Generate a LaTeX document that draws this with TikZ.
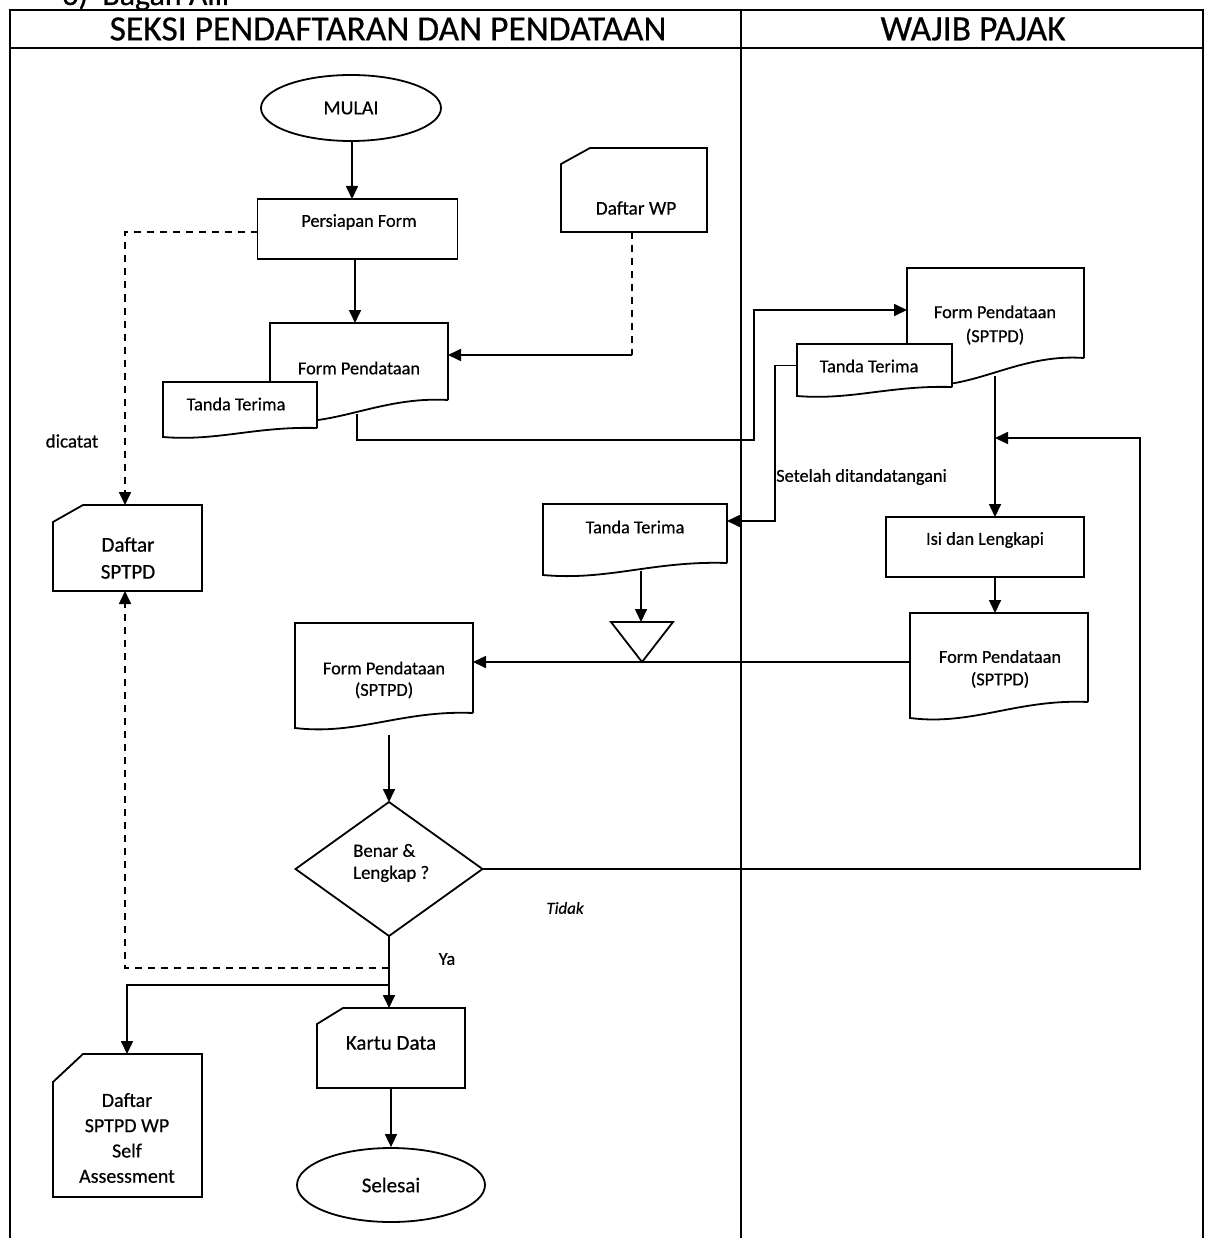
\documentclass[tikz,border=0pt]{standalone}
\usepackage{fontspec}
\setmainfont{Carlito}[FakeBold=0.5]
\usetikzlibrary{shapes.geometric,arrows.meta,calc}

% card outline: rectangle with the top-left corner cut off
\newcommand\cardoutline[3]{%
  \draw[shp] ($(#1.north west)+(0,#3)$) -- ($(#1.north west)+(#2,0)$)
    -- (#1.north east) -- (#1.south east) -- (#1.south west) -- cycle;}
% document outline: wavy bottom, left corner #2 lower than the right one
\newcommand\docoutline[2]{%
  \draw[shp,fill=white] (#1.south east) -- (#1.north east) -- (#1.north west)
    -- ($(#1.south west)+(0,#2)$)
    .. controls ($(#1.south west)!0.35!(#1.south east)+(0,1.5*#2)$)
       and ($(#1.south west)!0.6!(#1.south east)+(0,-0.2*#2)$) .. (#1.south east);}

\begin{document}
\begin{tikzpicture}[x=1pt,y=-1pt,
  shp/.style={draw=black,line width=1.8pt},
  box/.style={rectangle,inner sep=0pt,outer sep=0pt},
  oval/.style={ellipse,draw=black,line width=1.8pt,inner sep=0pt},
  arr/.style={line width=1.7pt,-{Triangle[length=13pt,width=12pt]}},
  dsh/.style={line width=1.7pt,dash pattern=on 7pt off 6pt},
  txt/.style={font=\fontsize{18.3}{22.5}\selectfont,align=center,inner sep=0pt},
  big/.style={font=\fontsize{21}{26}\selectfont,align=center,inner sep=0pt},
  head/.style={font=\fontsize{35.5}{40}\selectfont,inner sep=0pt},
  frame/.style={draw=black,line width=1.3pt}]

\useasboundingbox (0,0) rectangle (1210,1238);

% caption line above the table (partly cut by the page edge)
\node[anchor=base west,inner sep=0pt,font=\fontsize{32}{36}\selectfont] (cap) at (62,5) {6)\;\,Bagan Alir};

% swimlane table
\draw[frame] (10,1260) -- (10,10) -- (1203,10) -- (1203,1260);
\draw[frame] (10,48) -- (1203,48);
\draw[frame] (741,10) -- (741,1260);
\node[head] (laneA) at (388,29) {SEKSI PENDAFTARAN DAN PENDATAAN};
\node[head] (laneB) at (973,29) {WAJIB PAJAK};

% ---- shapes ----
\node[oval,minimum width=180pt,minimum height=66pt,big,font=\fontsize{20}{24}\selectfont] (mulai) at (351,108) {MULAI};

\node[box,draw=black,line width=1.8pt,minimum width=200pt,minimum height=60pt] (persiapan) at (357.5,229) {};
\node[txt] (persiapanT) at (359,222) {Persiapan Form};

\node[box,minimum width=146pt,minimum height=84pt] (daftarwp) at (634,190) {};
\cardoutline{daftarwp}{29}{16}
\node[txt,font=\fontsize{19.4}{22}\selectfont] (daftarwpT) at (636,208) {Daftar WP};

\node[box,minimum width=178pt,minimum height=77pt] (fp1) at (359,361.5) {};
\docoutline{fp1}{20}
\node[txt] (fp1T) at (359,368) {Form Pendataan};

\node[box,minimum width=154pt,minimum height=46pt] (tt1) at (240,405) {};
\docoutline{tt1}{9}
\node[txt] (tt1T) at (236,404) {Tanda Terima};

\node[box,minimum width=149pt,minimum height=86pt] (daftarsptpd) at (127.5,548) {};
\cardoutline{daftarsptpd}{30}{17}
\node[big,font=\fontsize{21}{27}\selectfont] (daftarsptpdT) at (128,558) {Daftar\\SPTPD};

\node[box,minimum width=177pt,minimum height=90pt] (fp2) at (995.5,313) {};
\docoutline{fp2}{25}
\node[txt,font=\fontsize{18.3}{24}\selectfont] (fp2T) at (995,325) {Form Pendataan\\(SPTPD)};

\node[box,minimum width=155pt,minimum height=43pt] (tt2) at (874.5,365.5) {};
\docoutline{tt2}{9}
\node[txt] (tt2T) at (869,366) {Tanda Terima};

\node[box,minimum width=184pt,minimum height=59pt] (tt3) at (635,533.5) {};
\docoutline{tt3}{12}
\node[txt] (tt3T) at (635,527) {Tanda Terima};

\node[box,minimum width=62pt,minimum height=40pt] (merge) at (642,642) {};
\draw[shp] (merge.north west) -- (merge.north east) -- (merge.south) -- cycle;

\node[box,draw=black,line width=1.8pt,minimum width=198pt,minimum height=60pt] (isi) at (985,547) {};
\node[txt] (isiT) at (985,540) {Isi dan Lengkapi};

\node[box,minimum width=178pt,minimum height=89pt] (fp3) at (999,657.5) {};
\docoutline{fp3}{16}
\node[txt] (fp3T) at (1000,669) {Form Pendataan\\(SPTPD)};

\node[box,minimum width=178pt,minimum height=90pt] (fp4) at (384,668) {};
\docoutline{fp4}{15}
\node[txt,font=\fontsize{18.3}{21.5}\selectfont] (fp4T) at (384,680) {Form Pendataan\\(SPTPD)};

\node[box,minimum width=187pt,minimum height=134pt] (dia) at (389,869) {};
\draw[shp] (dia.north) -- (dia.east) -- (dia.south) -- (dia.west) -- cycle;
\node[txt,align=left,anchor=west,font=\fontsize{18.8}{22}\selectfont] (diaT) at (353,863) {Benar \&\\Lengkap ?};

\node[box,minimum width=148pt,minimum height=80pt] (kartu) at (391,1048) {};
\cardoutline{kartu}{26}{16}
\node[big] (kartuT) at (391,1043) {Kartu Data};

\node[oval,minimum width=188pt,minimum height=74pt,big] (selesai) at (391,1185) {Selesai};

\node[box,minimum width=149pt,minimum height=143pt] (daftarsa) at (127.5,1125.5) {};
\cardoutline{daftarsa}{30}{28}
\node[big,font=\fontsize{20}{25.3}\selectfont] (daftarsaT) at (127,1138) {Daftar\\SPTPD WP\\Self\\Assessment};

% ---- labels ----
\node[txt,font=\fontsize{19}{22}\selectfont] (lblCatat) at (72,441) {dicatat};
\node[txt,anchor=west] (lblTtd) at (776,477) {Setelah ditandatangani};
\node[txt,font=\fontsize{16.9}{20}\selectfont\itshape] (lblTidak) at (565,908) {Tidak};
\node[txt] (lblYa) at (447,959) {Ya};

% ---- connectors ----
\coordinate (c1) at (352,0);
\draw[arr] (mulai.south -| c1) -- (persiapan.north -| c1);
\coordinate (c2) at (355,0);
\draw[arr] (persiapan.south -| c2) -- (fp1.north -| c2);

% Daftar WP -> Form Pendataan
\coordinate (wpbend) at (632,355);
\draw[dsh] (daftarwp.south -| wpbend) -- (wpbend);
\draw[arr] (wpbend) -- (fp1.east |- wpbend);

% Persiapan Form -> Daftar SPTPD (dicatat)
\coordinate (p1) at (0,232);
\coordinate (lx) at (125,0);
\draw[dsh,arr] (persiapan.west |- p1) -- (lx |- p1) -- (lx |- daftarsptpd.north);

% Form Pendataan -> Wajib Pajak
\coordinate (fp1out) at (357,414);
\coordinate (hand) at (754,440);
\coordinate (hin) at (0,310);
\draw[arr] (fp1out) -- (fp1out |- hand) -- (hand) -- (hand |- hin) -- (fp2.west |- hin);

% signed receipt back to the section
\coordinate (ttx) at (775,0);
\coordinate (tty) at (0,521);
\draw[arr] (tt2.west) -- (ttx |- tt2.west) -- (ttx |- tty) -- (tt3.east |- tty);

% Wajib Pajak fills the form
\coordinate (wx) at (995,376);
\draw[arr] (wx) -- (wx |- isi.north);
\draw[arr] (isi.south -| wx) -- (fp3.north -| wx);

% completed form back to the section
\coordinate (ry) at (0,662);
\draw[arr] (fp3.west |- ry) -- (fp4.east |- ry);

% receipt to the file
\coordinate (mx) at (641,0);
\draw[arr] (tt3.south -| mx) ++(0,8) -- (merge.north -| mx);

% form to the check
\coordinate (dx) at (0,735);
\draw[arr] (dia.north |- dx) -- (dia.north);

% not complete: back to Wajib Pajak
\coordinate (rx) at (1140,0);
\coordinate (ret) at (995,438);
\draw[arr] (dia.east) -- (rx |- dia.east) -- (rx |- ret) -- (ret);

% complete
\draw[arr] (dia.south) -- (kartu.north -| dia.south);
\coordinate (dline) at (0,968);
\draw[dsh,arr] (dia.south |- dline) -- (lx |- dline) -- (lx |- daftarsptpd.south);
\coordinate (sline) at (0,985);
\coordinate (sx) at (127,0);
\draw[arr] (dia.south |- sline) -- (sx |- sline) -- (sx |- daftarsa.north);

\draw[arr] (kartu.south) -- (selesai.north);
\end{tikzpicture}
\end{document}
